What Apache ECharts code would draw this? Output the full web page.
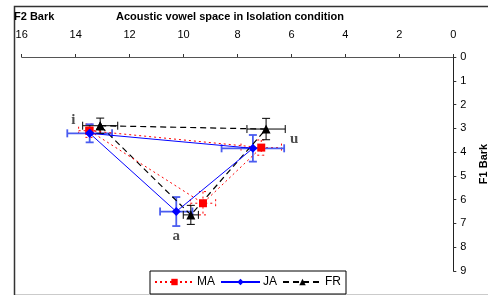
<!DOCTYPE html>
<html>
<head>
<meta charset="utf-8">
<script src="https://cdn.jsdelivr.net/npm/echarts@6/dist/echarts.min.js"></script>
<style>
  html, body { margin: 0; padding: 0; background: #fff; }
  #chart { width: 488px; height: 295px; }
</style>
</head>
<body>
<div id="chart"></div>
<script>
  // vowel order along the drawn triangle: i -> u -> a -> i
  const vowels = ['i', 'u', 'a']

  const maF2 = [13.49, 7.12, 9.28]
  const maF1 = [3.10, 3.81, 6.15]
  const maF2Err = [0.40, 0.75, 0.47]
  const maF1Err = [0.28, 0.32, 0.49]

  const jaF2 = [13.48, 7.43, 10.27]
  const jaF1 = [3.21, 3.84, 6.50]
  const jaF2Err = [0.83, 1.16, 0.60]
  const jaF1Err = [0.38, 0.56, 0.61]

  const frF2 = [13.09, 6.94, 9.73]
  const frF1 = [2.89, 3.03, 6.64]
  const frF2Err = [0.65, 0.71, 0.28]
  const frF1Err = [0.32, 0.45, 0.40]

  // where the vowel letters sit, in bark
  const vowelLabelF2 = [14.09, 5.90, 10.27]
  const vowelLabelF1 = [2.65, 3.45, 7.52]

  const f2Ticks = [0, 16, 2]
  const f1Ticks = [0, 9, 1]

  function loop(f2, f1) {
    const pts = f2.map((v, i) => [v, f1[i]])
    pts.push(pts[0])
    return pts
  }

  function errRows(f2, f1, e2, e1) {
    return f2.map((v, i) => [v, f1[i], e2[i], e1[i]])
  }

  function errorBars(color, width, dash) {
    return function (params, api) {
      const x = api.value(0), y = api.value(1), ex = api.value(2), ey = api.value(3)
      const l = api.coord([x + ex, y]), r = api.coord([x - ex, y])
      const t = api.coord([x, y - ey]), b = api.coord([x, y + ey])
      const cap = 4
      const style = { stroke: color, lineWidth: width, lineDash: dash }
      const seg = (x1, y1, x2, y2) => ({ type: 'line', shape: { x1, y1, x2, y2 }, style })
      return {
        type: 'group',
        children: [
          seg(l[0], l[1], r[0], r[1]),
          seg(t[0], t[1], b[0], b[1]),
          seg(l[0], l[1] - cap, l[0], l[1] + cap),
          seg(r[0], r[1] - cap, r[0], r[1] + cap),
          seg(t[0] - cap, t[1], t[0] + cap, t[1]),
          seg(b[0] - cap, b[1], b[0] + cap, b[1])
        ]
      }
    }
  }

  const font = 'Liberation Sans, Arial, sans-serif'
  const chart = echarts.init(document.getElementById('chart'))
  chart.setOption({
    animation: false,
    textStyle: { fontFamily: font },
    title: [
      {
        text: 'Acoustic vowel space in Isolation condition',
        left: 116, top: 11, padding: 0,
        textStyle: { fontSize: 11, fontWeight: 'bold', color: '#000', fontFamily: font }
      },
      {
        text: 'F2 Bark',
        left: 14, top: 11, padding: 0,
        textStyle: { fontSize: 11, fontWeight: 'bold', color: '#000', fontFamily: font }
      }
    ],
    graphic: [
      {
        type: 'rect', left: 12, top: 4, z: 0,
        shape: { width: 490, height: 289 },
        style: { fill: 'none', stroke: '#333', lineWidth: 1.5 }
      }
    ],
    legend: {
      left: 150, top: 271,
      padding: [5, 5, 6, 4],
      itemWidth: 39, itemHeight: 8, itemGap: 5,
      backgroundColor: '#fff',
      borderColor: '#000', borderWidth: 1,
      textStyle: { fontSize: 12, color: '#000', fontFamily: font, padding: [0, 0, 0, -2] },
      data: ['MA', 'JA', 'FR']
    },
    grid: { left: 21.7, right: 34.7, top: 57, bottom: 24, outerBoundsMode: 'none', containLabel: false },
    xAxis: {
      type: 'value', position: 'top', inverse: true,
      min: f2Ticks[0], max: f2Ticks[1], interval: f2Ticks[2],
      axisLine: { onZero: false, lineStyle: { color: '#555', width: 1 } },
      axisTick: { show: true, length: 3, lineStyle: { color: '#333' } },
      axisLabel: { margin: 17, fontSize: 11, color: '#000' },
      splitLine: { show: false }
    },
    yAxis: {
      type: 'value', position: 'right', inverse: true,
      min: f1Ticks[0], max: f1Ticks[1], interval: f1Ticks[2],
      name: 'F1 Bark', nameLocation: 'middle', nameRotate: 90, nameGap: 25,
      nameMoveOverlap: false,
      nameTextStyle: { fontSize: 11, fontWeight: 'bold', color: '#000' },
      axisLine: { onZero: false, lineStyle: { color: '#222', width: 1 } },
      axisTick: { show: true, length: 3, lineStyle: { color: '#333' } },
      axisLabel: { margin: 7, fontSize: 11, color: '#000' },
      splitLine: { show: false }
    },
    series: [
      {
        name: 'MA', type: 'line', data: loop(maF2, maF1),
        symbol: 'rect', symbolSize: 8,
        itemStyle: { color: '#ff0000' },
        lineStyle: { color: '#ff0000', width: 1, type: [2, 3] },
        z: 4
      },
      {
        name: 'JA', type: 'line', data: loop(jaF2, jaF1),
        symbol: 'diamond', symbolSize: 9,
        itemStyle: { color: '#0000ff' },
        lineStyle: { color: '#0000ff', width: 1, type: 'solid' },
        z: 5
      },
      {
        name: 'FR', type: 'line', data: loop(frF2, frF1),
        symbol: 'triangle', symbolSize: 9,
        itemStyle: { color: '#000' },
        lineStyle: { color: '#000', width: 1.2, type: [6, 4] },
        z: 3
      },
      {
        type: 'custom', data: errRows(maF2, maF1, maF2Err, maF1Err),
        renderItem: errorBars('#ff0000', 1, [2, 3]), z: 2
      },
      {
        type: 'custom', data: errRows(jaF2, jaF1, jaF2Err, jaF1Err),
        renderItem: errorBars('#4a5cf0', 1.8, null), z: 2
      },
      {
        type: 'custom', data: errRows(frF2, frF1, frF2Err, frF1Err),
        renderItem: errorBars('#000', 1, null), z: 2
      },
      {
        type: 'scatter', symbolSize: 0, silent: true,
        data: vowels.map((v, i) => ({ name: v, value: [vowelLabelF2[i], vowelLabelF1[i]] })),
        label: {
          show: true, position: 'inside', formatter: '{b}',
          fontFamily: 'Liberation Serif, serif', fontWeight: 'bold', fontSize: 15, color: '#222'
        }
      }
    ]
  })
</script>
</body>
</html>
